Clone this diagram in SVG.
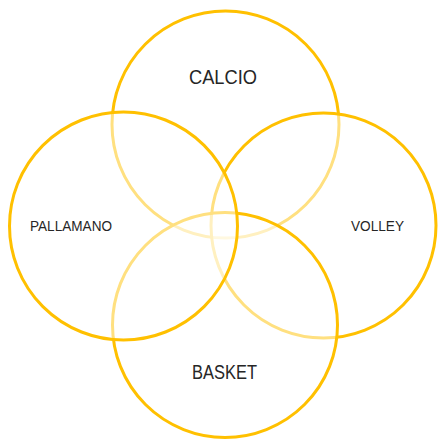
<svg xmlns="http://www.w3.org/2000/svg" width="439" height="439" viewBox="0 0 439 439">
<style>
.c{fill:#ffffff;fill-opacity:0.5;stroke:#FFC000;stroke-width:3}
.t{font-family:"Liberation Sans",Arial,sans-serif;fill:#262626;text-anchor:middle}
</style>
<rect width="439" height="439" fill="#ffffff"/>
<g id="calcio"><circle class="c" cx="225.5" cy="124.5" r="113.5"/></g>
<g id="volley"><circle class="c" cx="323.5" cy="225.5" r="112.5"/></g>
<g id="basket"><circle class="c" cx="225" cy="325" r="112.5"/></g>
<g id="pallamano"><circle class="c" cx="123.5" cy="226" r="114"/></g>
<g id="labels">
<text class="t" x="223" y="84" font-size="20" textLength="68" lengthAdjust="spacingAndGlyphs">CALCIO</text>
<text class="t" x="224.5" y="379" font-size="20" textLength="65" lengthAdjust="spacingAndGlyphs">BASKET</text>
<text class="t" x="71" y="231" font-size="15" textLength="82" lengthAdjust="spacingAndGlyphs">PALLAMANO</text>
<text class="t" x="377.5" y="231" font-size="15" textLength="53" lengthAdjust="spacingAndGlyphs">VOLLEY</text>
</g>
</svg>
